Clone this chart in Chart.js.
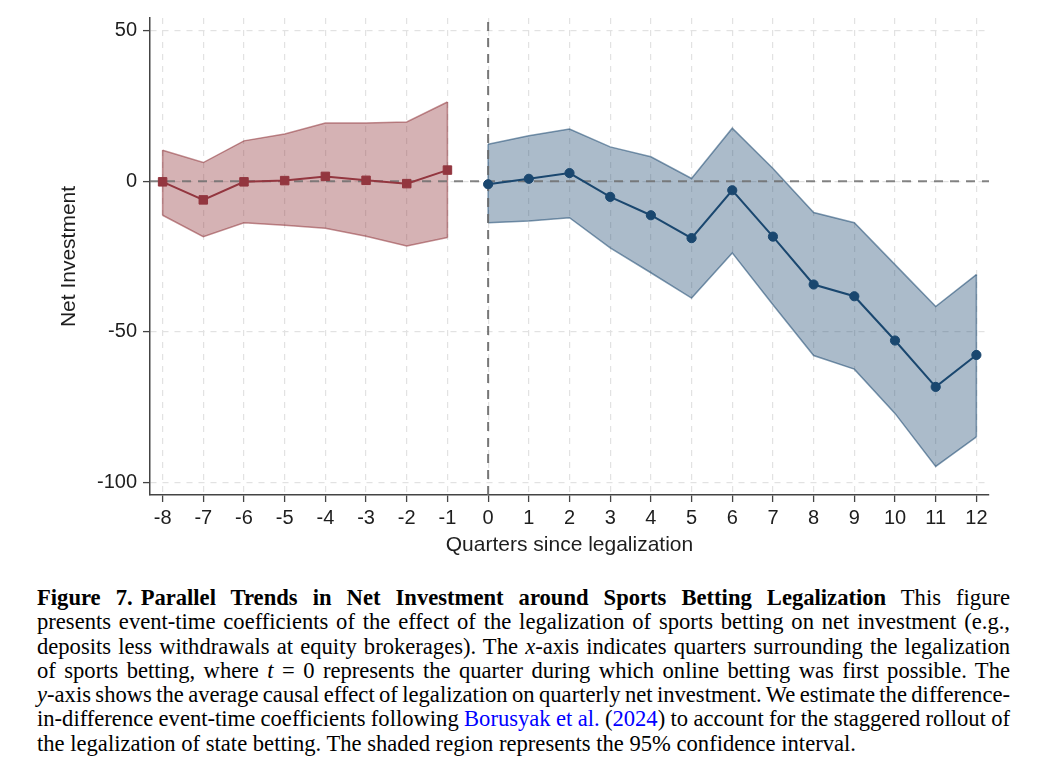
<!DOCTYPE html>
<html>
<head>
<meta charset="utf-8">
<script src="https://cdn.jsdelivr.net/npm/chart.js@4.4.1/dist/chart.umd.min.js"></script>
<style>
  html, body { margin: 0; padding: 0; background: #ffffff; }
  #wrap { position: relative; width: 1040px; height: 779px; overflow: hidden; background: #fff; }
  #chart { position: absolute; left: 0; top: 0; }
  #caption { position: absolute; left: 37px; top: 586px; width: 973px;
             font-family: "Liberation Serif", "DejaVu Serif", serif; font-size: 22.6px;
             line-height: 24.3px; color: #000; }
  .ln { white-space: nowrap; }
  .ln span.inner { white-space: nowrap; }
  .lnk { color: #0000ff; }
  b { font-weight: bold; }
</style>
</head>
<body>
<div id="wrap">
  <canvas id="chart" width="1040" height="565"></canvas>
  <div id="caption">
    <div class="ln j"><span class="inner"><b>Figure 7.</b><span style="display:inline-block;width:8px"></span><b>Parallel Trends in Net Investment around Sports Betting Legalization</b> This figure</span></div>
    <div class="ln j"><span class="inner">presents event-time coefficients of the effect of the legalization of sports betting on net investment (e.g.,</span></div>
    <div class="ln j"><span class="inner">deposits less withdrawals at equity brokerages). The <i>x</i>-axis indicates quarters surrounding the legalization</span></div>
    <div class="ln j"><span class="inner">of sports betting, where <i>t</i> = 0 represents the quarter during which online betting was first possible. The</span></div>
    <div class="ln j"><span class="inner"><i>y</i>-axis shows the average causal effect of legalization on quarterly net investment. We estimate the difference-</span></div>
    <div class="ln j"><span class="inner">in-difference event-time coefficients following <span class="lnk">Borusyak et al.</span> (<span class="lnk">2024</span>) to account for the staggered rollout of</span></div>
    <div class="ln"><span class="inner">the legalization of state betting. The shaded region represents the 95% confidence interval.</span></div>
  </div>
</div>
<script>
// ---------- data ----------
const quartersPre  = [-8, -7, -6, -5, -4, -3, -2, -1];
const coefPre      = [-0.2, -6.2, -0.2, 0.2, 1.6, 0.3, -0.8, 3.7];
const upperPre     = [10.3, 6.2, 13.4, 15.7, 19.3, 19.3, 19.7, 26.3];
const lowerPre     = [-11.3, -18.4, -13.8, -14.6, -15.6, -18.3, -21.5, -18.7];

const quartersPost = [0, 1, 2, 3, 4, 5, 6, 7, 8, 9, 10, 11, 12];
const coefPost     = [-1.0, 0.8, 2.7, -5.2, -11.3, -18.9, -3.0, -18.4, -34.3, -38.2, -52.9, -68.3, -57.7];
const upperPost    = [12.3, 15.1, 17.3, 11.4, 8.1, 0.9, 17.6, 4.2, -10.4, -13.8, -27.7, -41.6, -31.0];
const lowerPost    = [-13.8, -13.2, -12.1, -22.1, -30.4, -38.8, -23.8, -41.0, -57.9, -62.4, -77.1, -94.7, -84.9];

const xTickValues = [-8, -7, -6, -5, -4, -3, -2, -1, 0, 1, 2, 3, 4, 5, 6, 7, 8, 9, 10, 11, 12];
const yTickValues = [-100, -50, 0, 50];

const X_MIN = -8.31, X_MAX = 12.31;
const Y_MIN = -104.2, Y_MAX = 54.2;
const REF_X = 0, REF_Y = 0;

const xTitle = 'Quarters since legalization';
const yTitle = 'Net Investment';

// ---------- styles ----------
const RED = '#93363f';
const RED_FILL = 'rgba(144,53,59,0.38)';
const RED_EDGE = 'rgba(144,53,59,0.55)';
const BLUE = '#1a476f';
const BLUE_FILL = 'rgba(26,71,111,0.37)';
const BLUE_EDGE = 'rgba(26,71,111,0.55)';
const FONT = '"Liberation Sans", Arial, Helvetica, sans-serif';
const TXT = '#1e1e1e';

const pts = (xs, ys) => xs.map((x, i) => ({ x: x, y: ys[i] }));

const datasets = [
  { // 0 pre coefficients
    data: pts(quartersPre, coefPre), order: 0,
    borderColor: RED, borderWidth: 2, backgroundColor: RED,
    pointStyle: 'rect', pointRadius: 6, pointBorderWidth: 1, pointBorderColor: RED, pointBackgroundColor: RED,
    fill: false, tension: 0
  },
  { // 1 post coefficients
    data: pts(quartersPost, coefPost), order: 0,
    borderColor: BLUE, borderWidth: 2, backgroundColor: BLUE,
    pointStyle: 'circle', pointRadius: 4.6, pointBorderWidth: 1, pointBorderColor: BLUE, pointBackgroundColor: BLUE,
    fill: false, tension: 0
  },
  { // 2 horizontal reference line
    data: [{ x: X_MIN, y: REF_Y }, { x: X_MAX, y: REF_Y }], order: 1,
    borderColor: 'rgba(110,110,110,0.85)', borderWidth: 2, borderDash: [9, 7],
    pointRadius: 0, fill: false
  },
  { // 3 vertical reference line
    data: [{ x: REF_X, y: Y_MIN }, { x: REF_X, y: Y_MAX }], order: 1,
    borderColor: 'rgba(105,105,105,0.9)', borderWidth: 2, borderDash: [9, 7],
    pointRadius: 0, fill: false
  },
  { // 4 pre upper CI
    data: pts(quartersPre, upperPre), order: 2,
    borderColor: RED_EDGE, borderWidth: 1.5, backgroundColor: RED_FILL,
    pointRadius: 0, fill: '+1', tension: 0
  },
  { // 5 pre lower CI
    data: pts(quartersPre, lowerPre), order: 2,
    borderColor: RED_EDGE, borderWidth: 1.5, pointRadius: 0, fill: false, tension: 0
  },
  { // 6 post upper CI
    data: pts(quartersPost, upperPost), order: 2,
    borderColor: BLUE_EDGE, borderWidth: 1.5, backgroundColor: BLUE_FILL,
    pointRadius: 0, fill: '+1', tension: 0
  },
  { // 7 post lower CI
    data: pts(quartersPost, lowerPost), order: 2,
    borderColor: BLUE_EDGE, borderWidth: 1.5, pointRadius: 0, fill: false, tension: 0
  }
];

// close the band edges at the two ends (vertical edge segments)
const edgeClose = {
  id: 'edgeClose',
  beforeDatasetDraw(chart, args) {
    const pairs = { 4: [quartersPre, upperPre, lowerPre, RED_EDGE], 6: [quartersPost, upperPost, lowerPost, BLUE_EDGE] };
    const p = pairs[args.index];
    if (!p) return;
    const { ctx, scales: { x, y } } = chart;
    ctx.save();
    ctx.strokeStyle = p[3]; ctx.lineWidth = 1.5;
    [0, p[0].length - 1].forEach(i => {
      ctx.beginPath();
      ctx.moveTo(x.getPixelForValue(p[0][i]), y.getPixelForValue(p[1][i]));
      ctx.lineTo(x.getPixelForValue(p[0][i]), y.getPixelForValue(p[2][i]));
      ctx.stroke();
    });
    ctx.restore();
  }
};

new Chart(document.getElementById('chart'), {
  type: 'line',
  data: { datasets: datasets },
  plugins: [edgeClose],
  options: {
    responsive: false,
    animation: false,
    layout: { padding: { top: 18, right: 51, bottom: 0, left: 0 } },
    plugins: { legend: { display: false }, tooltip: { enabled: false }, title: { display: false } },
    elements: { line: { tension: 0 } },
    scales: {
      x: {
        type: 'linear', min: X_MIN, max: X_MAX,
        afterBuildTicks: s => { s.ticks = xTickValues.map(v => ({ value: v })); },
        afterFit: s => { s.height = 70; },
        grid: { color: '#e2e2e2', lineWidth: 1.2, drawTicks: true, tickLength: 7, tickColor: '#444', tickWidth: 1.3 },
        border: { display: true, color: '#444', width: 1.5, dash: [6, 6] },
        ticks: { autoSkip: false, maxRotation: 0, padding: 4, color: TXT,
                 font: { family: FONT, size: 20 }, callback: v => String(v) },
        title: { display: true, text: xTitle, color: TXT, font: { family: FONT, size: 21 },
                 padding: { top: 0, bottom: 7 } }
      },
      y: {
        type: 'linear', min: Y_MIN, max: Y_MAX,
        afterBuildTicks: s => { s.ticks = yTickValues.map(v => ({ value: v })); },
        afterFit: s => { s.width = 150; },
        grid: { color: '#e2e2e2', lineWidth: 1.2, drawTicks: true, tickLength: 7, tickColor: '#444', tickWidth: 1.3 },
        border: { display: true, color: '#444', width: 1.5, dash: [6, 6] },
        ticks: { padding: 6, color: TXT, font: { family: FONT, size: 20 }, callback: v => String(v) },
        title: { display: true, text: yTitle, color: TXT, font: { family: FONT, size: 21 },
                 padding: { top: 57, bottom: 0 } }
      }
    }
  }
});

// manual justification of caption lines
function justify() {
  const target = 973;
  document.querySelectorAll('#caption .ln.j').forEach(div => {
    const inner = div.querySelector('.inner');
    div.style.wordSpacing = '0px';
    const w = inner.getBoundingClientRect().width;
    const n = (inner.textContent.match(/ /g) || []).length;
    if (n > 0) div.style.wordSpacing = ((target - w) / n) + 'px';
  });
}
justify();
if (document.fonts && document.fonts.ready) document.fonts.ready.then(justify);
</script>
</body>
</html>
